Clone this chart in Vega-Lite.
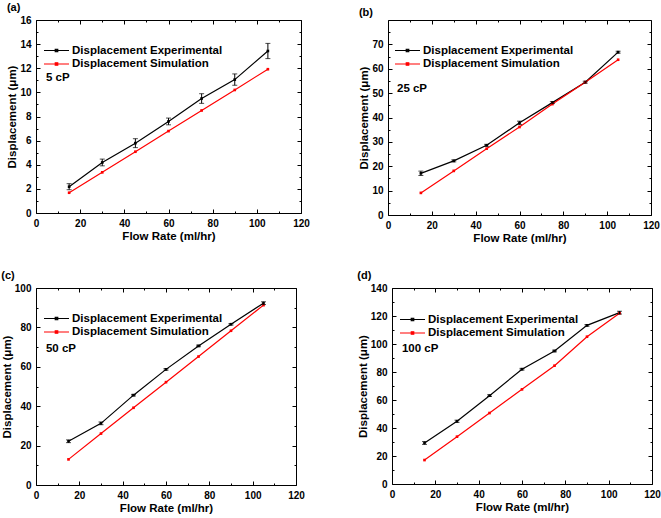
{
  "$schema": "https://vega.github.io/schema/vega-lite/v6.json",
  "padding": {"left": 0, "top": 1, "right": 0, "bottom": 0},
  "background": "white",
  "spacing": 25,
  "datasets": {
    "a": [
      {"flow": 15, "series": "Displacement Experimental", "value": 2.18, "lo": 1.93, "hi": 2.43},
      {"flow": 30, "series": "Displacement Experimental", "value": 4.19, "lo": 3.91, "hi": 4.47},
      {"flow": 45, "series": "Displacement Experimental", "value": 5.79, "lo": 5.42, "hi": 6.16},
      {"flow": 60, "series": "Displacement Experimental", "value": 7.59, "lo": 7.31, "hi": 7.87},
      {"flow": 75, "series": "Displacement Experimental", "value": 9.49, "lo": 9.09, "hi": 9.89},
      {"flow": 90, "series": "Displacement Experimental", "value": 11.06, "lo": 10.59, "hi": 11.53},
      {"flow": 105, "series": "Displacement Experimental", "value": 13.43, "lo": 12.8, "hi": 14.06},
      {"flow": 15, "series": "Displacement Simulation", "value": 1.68},
      {"flow": 30, "series": "Displacement Simulation", "value": 3.37},
      {"flow": 45, "series": "Displacement Simulation", "value": 5.08},
      {"flow": 60, "series": "Displacement Simulation", "value": 6.79},
      {"flow": 75, "series": "Displacement Simulation", "value": 8.5},
      {"flow": 90, "series": "Displacement Simulation", "value": 10.2},
      {"flow": 105, "series": "Displacement Simulation", "value": 11.92}
    ],
    "b": [
      {"flow": 15, "series": "Displacement Experimental", "value": 17.1, "lo": 16.2, "hi": 18.0},
      {"flow": 30, "series": "Displacement Experimental", "value": 22.2, "lo": 21.8, "hi": 22.6},
      {"flow": 45, "series": "Displacement Experimental", "value": 28.6, "lo": 28.2, "hi": 29.0},
      {"flow": 60, "series": "Displacement Experimental", "value": 37.8, "lo": 37.1, "hi": 38.5},
      {"flow": 75, "series": "Displacement Experimental", "value": 46.1, "lo": 45.7, "hi": 46.5},
      {"flow": 90, "series": "Displacement Experimental", "value": 54.5, "lo": 54.1, "hi": 54.9},
      {"flow": 105, "series": "Displacement Experimental", "value": 66.8, "lo": 66.4, "hi": 67.2},
      {"flow": 15, "series": "Displacement Simulation", "value": 9.07},
      {"flow": 30, "series": "Displacement Simulation", "value": 18.1},
      {"flow": 45, "series": "Displacement Simulation", "value": 27.2},
      {"flow": 60, "series": "Displacement Simulation", "value": 36.1},
      {"flow": 75, "series": "Displacement Simulation", "value": 45.5},
      {"flow": 90, "series": "Displacement Simulation", "value": 54.5},
      {"flow": 105, "series": "Displacement Simulation", "value": 63.7}
    ],
    "c": [
      {"flow": 15, "series": "Displacement Experimental", "value": 22.2, "lo": 21.5, "hi": 22.9},
      {"flow": 30, "series": "Displacement Experimental", "value": 31.3, "lo": 30.6, "hi": 32.0},
      {"flow": 45, "series": "Displacement Experimental", "value": 45.6, "lo": 45.2, "hi": 46.0},
      {"flow": 60, "series": "Displacement Experimental", "value": 58.7, "lo": 58.3, "hi": 59.1},
      {"flow": 75, "series": "Displacement Experimental", "value": 70.6, "lo": 70.2, "hi": 71.0},
      {"flow": 90, "series": "Displacement Experimental", "value": 81.6, "lo": 81.2, "hi": 82.0},
      {"flow": 105, "series": "Displacement Experimental", "value": 92.3, "lo": 91.6, "hi": 93.0},
      {"flow": 15, "series": "Displacement Simulation", "value": 13.0},
      {"flow": 30, "series": "Displacement Simulation", "value": 26.1},
      {"flow": 45, "series": "Displacement Simulation", "value": 39.2},
      {"flow": 60, "series": "Displacement Simulation", "value": 52.2},
      {"flow": 75, "series": "Displacement Simulation", "value": 65.2},
      {"flow": 90, "series": "Displacement Simulation", "value": 78.3},
      {"flow": 105, "series": "Displacement Simulation", "value": 91.3}
    ],
    "d": [
      {"flow": 15, "series": "Displacement Experimental", "value": 29.3, "lo": 28.3, "hi": 30.3},
      {"flow": 30, "series": "Displacement Experimental", "value": 44.8, "lo": 44.0, "hi": 45.6},
      {"flow": 45, "series": "Displacement Experimental", "value": 63.1, "lo": 62.5, "hi": 63.7},
      {"flow": 60, "series": "Displacement Experimental", "value": 82.0, "lo": 81.4, "hi": 82.6},
      {"flow": 75, "series": "Displacement Experimental", "value": 95.0, "lo": 94.4, "hi": 95.6},
      {"flow": 90, "series": "Displacement Experimental", "value": 113.3, "lo": 112.7, "hi": 113.9},
      {"flow": 105, "series": "Displacement Experimental", "value": 122.4, "lo": 121.4, "hi": 123.4},
      {"flow": 15, "series": "Displacement Simulation", "value": 17.1},
      {"flow": 30, "series": "Displacement Simulation", "value": 33.8},
      {"flow": 45, "series": "Displacement Simulation", "value": 50.7},
      {"flow": 60, "series": "Displacement Simulation", "value": 67.6},
      {"flow": 75, "series": "Displacement Simulation", "value": 84.5},
      {"flow": 90, "series": "Displacement Simulation", "value": 105.2},
      {"flow": 105, "series": "Displacement Simulation", "value": 121.9}
    ]
  },
  "config": {
    "font": "Liberation Sans",
    "view": {"stroke": "black", "strokeWidth": 1},
    "axis": {
      "domain": false, "grid": false,
      "tickColor": "black", "tickSize": -4, "tickWidth": 1,
      "labelFont": "Liberation Sans", "labelFontSize": 10, "labelFontWeight": "bold", "labelColor": "black",
      "labelPadding": 9, "labelFlush": false, "labelOverlap": false,
      "titleFont": "Liberation Sans", "titleFontSize": 11.5, "titleFontWeight": "bold", "titleColor": "black",
      "titlePadding": 2
    },
    "legend": {
      "title": null, "padding": 0,
      "labelFont": "Liberation Sans", "labelFontSize": 11.5, "labelFontWeight": "bold", "labelColor": "black",
      "symbolType": "M-2.5,0H2.5M-0.25,-0.25H0.25V0.25H-0.25Z",
      "symbolSize": 100, "symbolStrokeWidth": 1.2, "labelOffset": 9.5, "rowPadding": 1.5
    },
    "title": {"font": "Liberation Sans", "fontSize": 11, "fontWeight": "bold", "color": "black", "anchor": "start", "frame": "bounds", "offset": 2}
  },
  "vconcat": [
    {
      "spacing": 48,
      "resolve": {"scale": {"color": "independent"}, "legend": {"color": "independent"}},
      "hconcat": [
        {
          "width": 265, "height": 193,
          "title": "(a)",
          "data": {"name": "a"},
          "layer": [
            {
              "mark": {"type": "line", "strokeWidth": 1.2, "point": {"filled": true, "shape": "square", "size": 7}},
              "encoding": {
                "x": {"field": "flow", "type": "quantitative", "scale": {"domain": [0, 120]}, "axis": {"orient": "bottom", "values": [0, 20, 40, 60, 80, 100, 120], "title": "Flow Rate (ml/hr)"}},
                "y": {"field": "value", "type": "quantitative", "scale": {"domain": [0, 16]}, "axis": {"orient": "left", "values": [0, 2, 4, 6, 8, 10, 12, 14, 16], "title": "Displacement (μm)"}},
                "color": {"field": "series", "type": "nominal", "scale": {"domain": ["Displacement Experimental", "Displacement Simulation"], "range": ["#000000", "#ff0000"]}, "legend": {"orient": "none", "legendX": 14.5, "legendY": 24.5}}
              }
            },
            {
              "transform": [{"filter": "datum.series === 'Displacement Experimental'"}],
              "mark": {"type": "errorbar", "ticks": {"size": 5}, "color": "black", "thickness": 1},
              "encoding": {
                "x": {"field": "flow", "type": "quantitative", "axis": null},
                "y": {"field": "lo", "type": "quantitative", "axis": null},
                "y2": {"field": "hi"}
              }
            },
            {
              "mark": {"type": "point", "opacity": 0},
              "encoding": {
                "x": {"field": "flow", "type": "quantitative", "axis": {"orient": "top", "values": [0, 20, 40, 60, 80, 100, 120], "labels": false, "title": null}},
                "y": {"field": "value", "type": "quantitative", "axis": {"orient": "right", "values": [0, 2, 4, 6, 8, 10, 12, 14, 16], "labels": false, "title": null}}
              }
            },
            {
              "mark": {"type": "point", "opacity": 0},
              "encoding": {
                "x": {"field": "flow", "type": "quantitative", "axis": {"orient": "bottom", "values": [10, 30, 50, 70, 90, 110], "labels": false, "title": null, "tickSize": -2}},
                "y": {"field": "value", "type": "quantitative", "axis": {"orient": "left", "values": [1, 3, 5, 7, 9, 11, 13, 15], "labels": false, "title": null, "tickSize": -2}}
              }
            },
            {
              "mark": {"type": "point", "opacity": 0},
              "encoding": {
                "x": {"field": "flow", "type": "quantitative", "axis": {"orient": "top", "values": [10, 30, 50, 70, 90, 110], "labels": false, "title": null, "tickSize": -2}},
                "y": {"field": "value", "type": "quantitative", "axis": {"orient": "right", "values": [1, 3, 5, 7, 9, 11, 13, 15], "labels": false, "title": null, "tickSize": -2}}
              }
            },
            {
              "data": {"values": [{"flow": 4.5, "value": 11.2, "label": "5 cP"}]},
              "mark": {"type": "text", "align": "left", "baseline": "middle", "fontSize": 11.5, "fontWeight": "bold", "color": "black"},
              "encoding": {
                "x": {"field": "flow", "type": "quantitative", "axis": null},
                "y": {"field": "value", "type": "quantitative", "axis": null},
                "text": {"field": "label"}
              }
            }
          ],
          "resolve": {"axis": {"x": "independent", "y": "independent"}}
        },
        {
          "width": 263, "height": 195,
          "title": "(b)",
          "data": {"name": "b"},
          "layer": [
            {
              "mark": {"type": "line", "strokeWidth": 1.2, "point": {"filled": true, "shape": "square", "size": 7}},
              "encoding": {
                "x": {"field": "flow", "type": "quantitative", "scale": {"domain": [0, 120]}, "axis": {"orient": "bottom", "values": [0, 20, 40, 60, 80, 100, 120], "title": "Flow Rate (ml/hr)"}},
                "y": {"field": "value", "type": "quantitative", "scale": {"domain": [0, 75]}, "axis": {"orient": "left", "values": [0, 10, 20, 30, 40, 50, 60, 70], "title": "Displacement (μm)"}},
                "color": {"field": "series", "type": "nominal", "scale": {"domain": ["Displacement Experimental", "Displacement Simulation"], "range": ["#000000", "#ff0000"]}, "legend": {"orient": "none", "legendX": 13.5, "legendY": 24.5}}
              }
            },
            {
              "transform": [{"filter": "datum.series === 'Displacement Experimental'"}],
              "mark": {"type": "errorbar", "ticks": {"size": 5}, "color": "black", "thickness": 1},
              "encoding": {
                "x": {"field": "flow", "type": "quantitative", "axis": null},
                "y": {"field": "lo", "type": "quantitative", "axis": null},
                "y2": {"field": "hi"}
              }
            },
            {
              "mark": {"type": "point", "opacity": 0},
              "encoding": {
                "x": {"field": "flow", "type": "quantitative", "axis": {"orient": "top", "values": [0, 20, 40, 60, 80, 100, 120], "labels": false, "title": null}},
                "y": {"field": "value", "type": "quantitative", "axis": {"orient": "right", "values": [0, 10, 20, 30, 40, 50, 60, 70], "labels": false, "title": null}}
              }
            },
            {
              "mark": {"type": "point", "opacity": 0},
              "encoding": {
                "x": {"field": "flow", "type": "quantitative", "axis": {"orient": "bottom", "values": [10, 30, 50, 70, 90, 110], "labels": false, "title": null, "tickSize": -2}},
                "y": {"field": "value", "type": "quantitative", "axis": {"orient": "left", "values": [5, 15, 25, 35, 45, 55, 65, 75], "labels": false, "title": null, "tickSize": -2}}
              }
            },
            {
              "mark": {"type": "point", "opacity": 0},
              "encoding": {
                "x": {"field": "flow", "type": "quantitative", "axis": {"orient": "top", "values": [10, 30, 50, 70, 90, 110], "labels": false, "title": null, "tickSize": -2}},
                "y": {"field": "value", "type": "quantitative", "axis": {"orient": "right", "values": [5, 15, 25, 35, 45, 55, 65, 75], "labels": false, "title": null, "tickSize": -2}}
              }
            },
            {
              "data": {"values": [{"flow": 4.1, "value": 51.5, "label": "25 cP"}]},
              "mark": {"type": "text", "align": "left", "baseline": "middle", "fontSize": 11.5, "fontWeight": "bold", "color": "black"},
              "encoding": {
                "x": {"field": "flow", "type": "quantitative", "axis": null},
                "y": {"field": "value", "type": "quantitative", "axis": null},
                "text": {"field": "label"}
              }
            }
          ],
          "resolve": {"axis": {"x": "independent", "y": "independent"}}
        }
      ]
    },
    {
      "spacing": 51,
      "resolve": {"scale": {"color": "independent"}, "legend": {"color": "independent"}},
      "hconcat": [
        {
          "width": 260, "height": 197,
          "title": "(c)",
          "data": {"name": "c"},
          "layer": [
            {
              "mark": {"type": "line", "strokeWidth": 1.2, "point": {"filled": true, "shape": "square", "size": 7}},
              "encoding": {
                "x": {"field": "flow", "type": "quantitative", "scale": {"domain": [0, 120]}, "axis": {"orient": "bottom", "values": [0, 20, 40, 60, 80, 100, 120], "title": "Flow Rate (ml/hr)"}},
                "y": {"field": "value", "type": "quantitative", "scale": {"domain": [0, 100]}, "axis": {"orient": "left", "values": [0, 20, 40, 60, 80, 100], "title": "Displacement (μm)"}},
                "color": {"field": "series", "type": "nominal", "scale": {"domain": ["Displacement Experimental", "Displacement Simulation"], "range": ["#000000", "#ff0000"]}, "legend": {"orient": "none", "legendX": 14.5, "legendY": 24.5}}
              }
            },
            {
              "transform": [{"filter": "datum.series === 'Displacement Experimental'"}],
              "mark": {"type": "errorbar", "ticks": {"size": 5}, "color": "black", "thickness": 1},
              "encoding": {
                "x": {"field": "flow", "type": "quantitative", "axis": null},
                "y": {"field": "lo", "type": "quantitative", "axis": null},
                "y2": {"field": "hi"}
              }
            },
            {
              "mark": {"type": "point", "opacity": 0},
              "encoding": {
                "x": {"field": "flow", "type": "quantitative", "axis": {"orient": "top", "values": [0, 20, 40, 60, 80, 100, 120], "labels": false, "title": null}},
                "y": {"field": "value", "type": "quantitative", "axis": {"orient": "right", "values": [0, 20, 40, 60, 80, 100], "labels": false, "title": null}}
              }
            },
            {
              "mark": {"type": "point", "opacity": 0},
              "encoding": {
                "x": {"field": "flow", "type": "quantitative", "axis": {"orient": "bottom", "values": [10, 30, 50, 70, 90, 110], "labels": false, "title": null, "tickSize": -2}},
                "y": {"field": "value", "type": "quantitative", "axis": {"orient": "left", "values": [10, 30, 50, 70, 90], "labels": false, "title": null, "tickSize": -2}}
              }
            },
            {
              "mark": {"type": "point", "opacity": 0},
              "encoding": {
                "x": {"field": "flow", "type": "quantitative", "axis": {"orient": "top", "values": [10, 30, 50, 70, 90, 110], "labels": false, "title": null, "tickSize": -2}},
                "y": {"field": "value", "type": "quantitative", "axis": {"orient": "right", "values": [10, 30, 50, 70, 90], "labels": false, "title": null, "tickSize": -2}}
              }
            },
            {
              "data": {"values": [{"flow": 4.6, "value": 69, "label": "50 cP"}]},
              "mark": {"type": "text", "align": "left", "baseline": "middle", "fontSize": 11.5, "fontWeight": "bold", "color": "black"},
              "encoding": {
                "x": {"field": "flow", "type": "quantitative", "axis": null},
                "y": {"field": "value", "type": "quantitative", "axis": null},
                "text": {"field": "label"}
              }
            }
          ],
          "resolve": {"axis": {"x": "independent", "y": "independent"}}
        },
        {
          "width": 260, "height": 196,
          "title": "(d)",
          "data": {"name": "d"},
          "layer": [
            {
              "mark": {"type": "line", "strokeWidth": 1.2, "point": {"filled": true, "shape": "square", "size": 7}},
              "encoding": {
                "x": {"field": "flow", "type": "quantitative", "scale": {"domain": [0, 120]}, "axis": {"orient": "bottom", "values": [0, 20, 40, 60, 80, 100, 120], "title": "Flow Rate (ml/hr)"}},
                "y": {"field": "value", "type": "quantitative", "scale": {"domain": [0, 140]}, "axis": {"orient": "left", "values": [0, 20, 40, 60, 80, 100, 120, 140], "title": "Displacement (μm)"}},
                "color": {"field": "series", "type": "nominal", "scale": {"domain": ["Displacement Experimental", "Displacement Simulation"], "range": ["#000000", "#ff0000"]}, "legend": {"orient": "none", "legendX": 14.5, "legendY": 25.5}}
              }
            },
            {
              "transform": [{"filter": "datum.series === 'Displacement Experimental'"}],
              "mark": {"type": "errorbar", "ticks": {"size": 5}, "color": "black", "thickness": 1},
              "encoding": {
                "x": {"field": "flow", "type": "quantitative", "axis": null},
                "y": {"field": "lo", "type": "quantitative", "axis": null},
                "y2": {"field": "hi"}
              }
            },
            {
              "mark": {"type": "point", "opacity": 0},
              "encoding": {
                "x": {"field": "flow", "type": "quantitative", "axis": {"orient": "top", "values": [0, 20, 40, 60, 80, 100, 120], "labels": false, "title": null}},
                "y": {"field": "value", "type": "quantitative", "axis": {"orient": "right", "values": [0, 20, 40, 60, 80, 100, 120, 140], "labels": false, "title": null}}
              }
            },
            {
              "mark": {"type": "point", "opacity": 0},
              "encoding": {
                "x": {"field": "flow", "type": "quantitative", "axis": {"orient": "bottom", "values": [10, 30, 50, 70, 90, 110], "labels": false, "title": null, "tickSize": -2}},
                "y": {"field": "value", "type": "quantitative", "axis": {"orient": "left", "values": [10, 30, 50, 70, 90, 110, 130], "labels": false, "title": null, "tickSize": -2}}
              }
            },
            {
              "mark": {"type": "point", "opacity": 0},
              "encoding": {
                "x": {"field": "flow", "type": "quantitative", "axis": {"orient": "top", "values": [10, 30, 50, 70, 90, 110], "labels": false, "title": null, "tickSize": -2}},
                "y": {"field": "value", "type": "quantitative", "axis": {"orient": "right", "values": [10, 30, 50, 70, 90, 110, 130], "labels": false, "title": null, "tickSize": -2}}
              }
            },
            {
              "data": {"values": [{"flow": 4.6, "value": 96.4, "label": "100 cP"}]},
              "mark": {"type": "text", "align": "left", "baseline": "middle", "fontSize": 11.5, "fontWeight": "bold", "color": "black"},
              "encoding": {
                "x": {"field": "flow", "type": "quantitative", "axis": null},
                "y": {"field": "value", "type": "quantitative", "axis": null},
                "text": {"field": "label"}
              }
            }
          ],
          "resolve": {"axis": {"x": "independent", "y": "independent"}}
        }
      ]
    }
  ]
}
